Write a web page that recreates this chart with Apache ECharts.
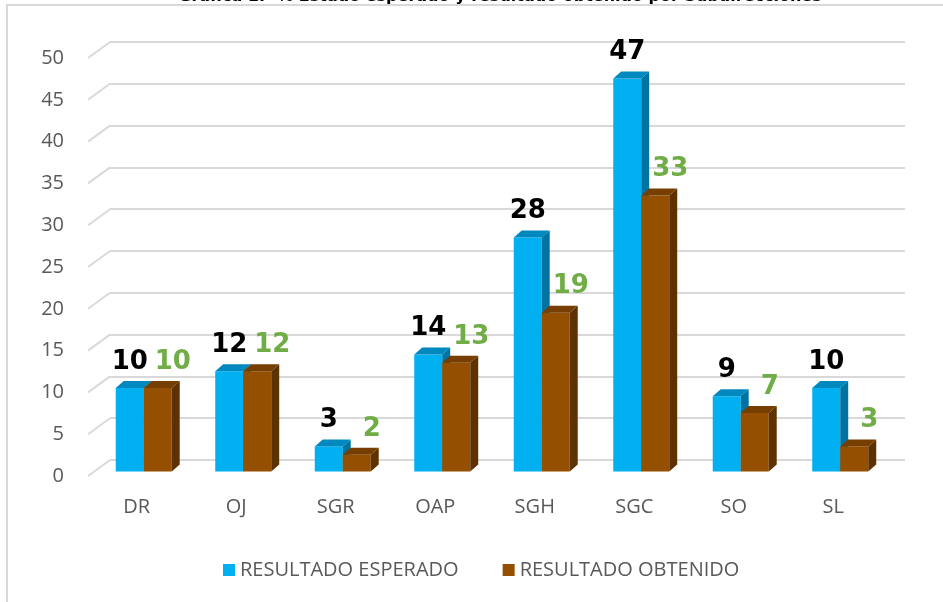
<!DOCTYPE html>
<html>
<head>
<meta charset="utf-8">
<script src="https://cdn.jsdelivr.net/npm/echarts@6/dist/echarts.min.js"></script>
<style>html,body{margin:0;padding:0;background:#fff}#c{width:943px;height:602px}</style>
</head>
<body>
<div id="c"></div>
<script>
const titleText = 'Gráfica 1.- % Estado esperado y resultado obtenido por Subdirecciones';
const categories = ['DR', 'OJ', 'SGR', 'OAP', 'SGH', 'SGC', 'SO', 'SL'];
const esperado = [10, 12, 3, 14, 28, 47, 9, 10];
const obtenido = [10, 12, 2, 13, 19, 33, 7, 3];
const yTicks = [0, 5, 10, 15, 20, 25, 30, 35, 40, 45, 50];
const seriesNames = ['RESULTADO ESPERADO', 'RESULTADO OBTENIDO'];

const AX_FONT = '"Open Sans", "Noto Sans", sans-serif';
const LBL_FONT = 'bold 26px "DejaVu Sans", Verdana, sans-serif';

function makeBarRender(side, front, topC, sideC, labelColor, labelDx) {
  return function (params, api) {
    const ci = api.value(0), v = api.value(1);
    const base = api.coord([ci, 0]);
    const top = api.coord([ci, v]);
    const band = api.size([1, 0])[0];
    const w = band * 0.2815;
    const dx = band * 0.08, dy = -7;
    const x0 = side < 0 ? base[0] - w : base[0];
    const yT = top[1], yB = base[1];
    return {
      type: 'group',
      children: [
        { type: 'rect', shape: { x: x0, y: yT, width: w, height: yB - yT }, style: { fill: front } },
        { type: 'polygon', shape: { points: [[x0, yT], [x0 + dx, yT + dy], [x0 + w + dx, yT + dy], [x0 + w, yT]] }, style: { fill: topC } },
        { type: 'polygon', shape: { points: [[x0 + w, yT], [x0 + w + dx, yT + dy], [x0 + w + dx, yB + dy], [x0 + w, yB]] }, style: { fill: sideC } },
        { type: 'text', style: { text: String(v), x: x0 + w / 2 + labelDx, y: yT - 26, align: 'center', verticalAlign: 'middle', font: LBL_FONT, fill: labelColor } }
      ]
    };
  };
}

function stubRender(params, api) {
  const v = api.value(0);
  const p = api.coord([0, v]);
  return {
    type: 'line',
    shape: { x1: p[0], y1: p[1], x2: p[0] + 22, y2: p[1] - 16 },
    style: { stroke: '#D9D9D9', lineWidth: 2 }
  };
}

const chart = echarts.init(document.getElementById('c'), null, { renderer: 'canvas' });
chart.setOption({
  animation: false,
  backgroundColor: '#ffffff',
  graphic: [
    { type: 'rect', shape: { x: 7, y: 5, width: 950, height: 610 }, style: { fill: 'none', stroke: '#D9D9D9', lineWidth: 2 }, z: -1 },
    { type: 'text', style: { text: titleText, x: 500, y: 5, align: 'center', verticalAlign: 'bottom', font: 'bold 16px "DejaVu Sans", Verdana, sans-serif', fill: '#000' }, z: 10 }
  ],
  legend: {
    data: seriesNames,
    left: 218,
    top: 555,
    icon: 'rect',
    itemWidth: 12,
    itemHeight: 12,
    itemGap: 44,
    textStyle: { fontSize: 20, color: '#595959', fontFamily: AX_FONT }
  },
  grid: [
    { left: 94, right: 53, top: 53.5, bottom: 130.5 },   // bars
    { left: 110, right: 38, top: 42, bottom: 142 },      // back wall
    { left: 88, right: 60, top: 58, bottom: 126 }        // labels + stubs
  ],
  xAxis: [
    { gridIndex: 0, type: 'category', data: categories, axisLine: { show: false }, axisTick: { show: false },
      axisLabel: { fontSize: 20, color: '#595959', fontFamily: AX_FONT, margin: 26, padding: [0, 14, 0, 0] } },
    { gridIndex: 1, type: 'value', min: 0, max: 1, show: false },
    { gridIndex: 2, type: 'value', min: 0, max: 1, show: false }
  ],
  yAxis: [
    { gridIndex: 0, type: 'value', min: 0, max: 50, interval: 5, show: false },
    { gridIndex: 1, type: 'value', min: 0, max: 50, interval: 5, axisLine: { show: false }, axisTick: { show: false }, axisLabel: { show: false },
      splitLine: { show: true, lineStyle: { color: '#D9D9D9', width: 2 } } },
    { gridIndex: 2, type: 'value', min: 0, max: 50, interval: 5, axisLine: { show: false }, axisTick: { show: false }, splitLine: { show: false },
      axisLabel: { fontSize: 20, color: '#595959', fontFamily: AX_FONT, margin: 24 } }
  ],
  series: [
    { type: 'custom', name: 'stubs', xAxisIndex: 2, yAxisIndex: 2, data: yTicks.map(t => [t]), renderItem: stubRender, silent: true, z: 1 },
    { type: 'custom', name: seriesNames[0], xAxisIndex: 0, yAxisIndex: 0, itemStyle: { color: '#00B0F0' },
      data: esperado.map((v, i) => [i, v]), renderItem: makeBarRender(-1, '#00B0F0', '#0089BE', '#0073A2', '#000000', 0), z: 2 },
    { type: 'custom', name: seriesNames[1], xAxisIndex: 0, yAxisIndex: 0, itemStyle: { color: '#954F00' },
      data: obtenido.map((v, i) => [i, v]), renderItem: makeBarRender(1, '#954F00', '#763E00', '#5E3200', '#70AD47', 15), z: 3 }
  ]
});
</script>
</body>
</html>
